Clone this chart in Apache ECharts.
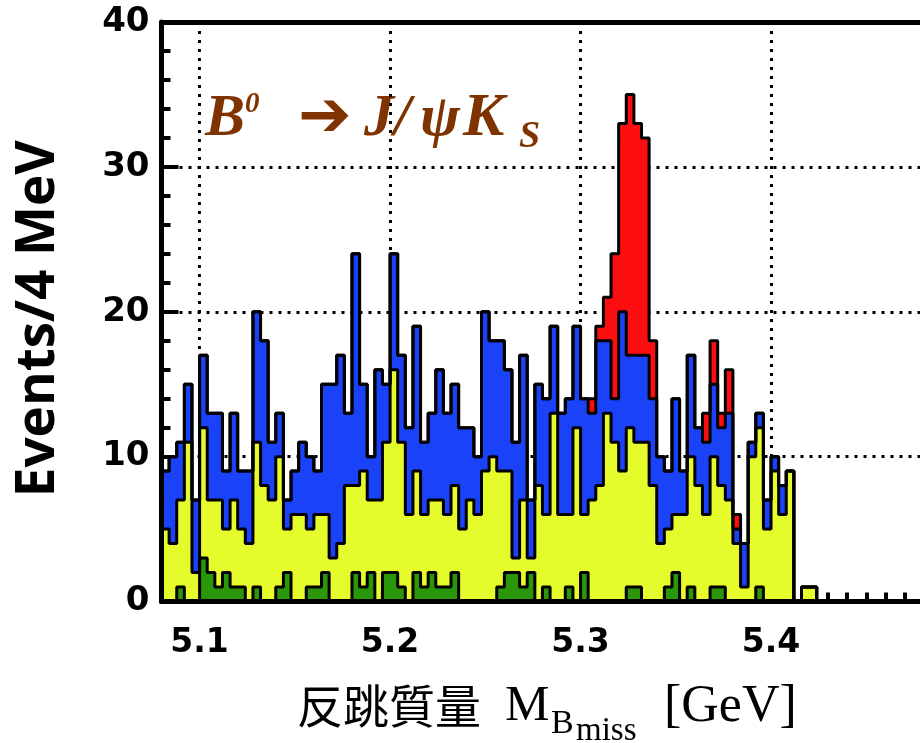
<!DOCTYPE html>
<html>
<head>
<meta charset="utf-8">
<title>B0 -> J/psi Ks recoil mass</title>
<script src="https://cdn.jsdelivr.net/npm/echarts@6/dist/echarts.min.js"></script>
<style>
  html, body { margin: 0; padding: 0; background: #fff; }
  #chart { width: 920px; height: 743px; }
</style>
</head>
<body>
<div id="chart"></div>
<script>
// 4 MeV bins, first bin starts at 5.08 GeV
const binStart = 5.08
const binWidth = 0.004

// top edge of each filled histogram (events per bin), drawn back to front
const totalCounts = [
  9, 10, 11, 15, 7, 17, 13, 13, 9, 13,
  9, 9, 20, 18, 11, 13, 7, 9, 11, 10,
  9, 15, 15, 17, 13, 24, 15, 10, 16, 15,
  24, 17, 12, 19, 11, 13, 16, 13, 15, 12,
  12, 10, 20, 18, 18, 16, 11, 17, 7, 15,
  14, 19, 13, 14, 19, 14, 14, 19, 21, 24,
  33, 35, 33, 32, 18, 10, 9, 14, 9, 17,
  12, 13, 18, 13, 16, 6, 4, 11, 13, 7,
  10, 8, 9, 0, 1, 1
]
const blueCounts = [
  9, 10, 11, 15, 7, 17, 13, 13, 9, 13,
  9, 9, 20, 18, 11, 13, 7, 9, 11, 10,
  9, 15, 15, 17, 13, 24, 15, 10, 16, 15,
  24, 17, 12, 19, 11, 13, 16, 13, 15, 12,
  12, 10, 20, 18, 18, 16, 11, 17, 7, 15,
  14, 19, 13, 14, 19, 14, 13, 18, 18, 14,
  20, 17, 17, 17, 14, 10, 9, 14, 9, 17,
  12, 11, 15, 12, 13, 5, 4, 11, 13, 7,
  10, 8, 9, 0, 1, 1
]
const yellowCounts = [
  5, 4, 7, 11, 2, 12, 7, 7, 5, 7,
  5, 4, 11, 8, 7, 10, 5, 6, 6, 5,
  6, 6, 3, 4, 8, 8, 9, 7, 7, 11,
  16, 11, 6, 9, 6, 7, 7, 6, 8, 5,
  7, 6, 9, 10, 9, 9, 3, 7, 3, 8,
  6, 13, 6, 6, 12, 6, 7, 8, 13, 11,
  9, 12, 11, 11, 8, 4, 5, 6, 6, 10,
  8, 6, 10, 8, 7, 4, 1, 10, 12, 5,
  9, 6, 9, 0, 1, 1
]
const greenCounts = [
  0, 0, 1, 0, 0, 3, 2, 1, 2, 1,
  1, 0, 1, 0, 0, 1, 2, 0, 0, 1,
  1, 2, 0, 0, 0, 2, 1, 2, 0, 2,
  2, 1, 0, 2, 1, 2, 1, 1, 2, 0,
  0, 0, 0, 0, 1, 2, 2, 1, 2, 0,
  1, 0, 0, 1, 0, 2, 0, 0, 0, 0,
  0, 1, 1, 0, 0, 0, 1, 2, 0, 1,
  0, 0, 1, 1, 0, 0, 0, 0, 1, 0,
  0, 0, 0, 0, 0, 0
]

const xMin = 5.08
const xMax = 5.5
const yMin = 0
const yMax = 40

const histColors = ['#fc0d0f', '#1a42f8', '#e6fb2b', '#2a960a']
const labelBrown = '#7f3300'

// bin edges -> step points, closed back to zero after the last bin
const toSteps = (counts) => {
  const pts = counts.map((v, i) => [binStart + i * binWidth, v])
  pts.push([binStart + counts.length * binWidth, 0])
  return pts
}

const histSeries = (counts, color) => ({
  type: 'line',
  step: 'end',
  symbol: 'none',
  silent: true,
  xAxisIndex: 0,
  yAxisIndex: 0,
  lineStyle: { color: '#000', width: 3 },
  areaStyle: { color: color, opacity: 1 },
  data: toSteps(counts)
})

const dotted = { color: '#000', width: 3, type: [3, 6] }
const frameLine = { show: true, lineStyle: { color: '#000', width: 5 } }
const serif = '"Liberation Serif", "Times New Roman", serif'

const label = (text, x, y, font, color) => ({
  type: 'text',
  x: x,
  y: y,
  style: { text: text, font: font, fill: color, align: 'left', verticalAlign: 'middle' }
})

const myChart = echarts.init(document.getElementById('chart'))

myChart.setOption({
  animation: false,
  grid: { left: 161.5, top: 22, width: 800, height: 579.5, outerBoundsMode: 'none' },
  xAxis: [
    {
      type: 'value',
      min: xMin,
      max: xMax,
      minInterval: 0.1,
      maxInterval: 0.1,
      axisLine: { show: false },
      axisTick: { show: true, inside: true, length: 16, lineStyle: { color: '#000', width: 4 } },
      minorTick: { show: true, splitNumber: 10, length: 9, lineStyle: { color: '#000', width: 4 } },
      axisLabel: {
        showMinLabel: false,
        showMaxLabel: false,
        margin: 25,
        color: '#000',
        fontFamily: 'DejaVu Sans',
        fontWeight: 'bold',
        fontSize: 33,
        formatter: (v) => v.toFixed(1)
      },
      splitLine: { show: true, lineStyle: dotted }
    },
    {
      type: 'value', min: xMin, max: xMax, position: 'bottom', z: 10,
      axisLine: frameLine, axisTick: { show: false }, axisLabel: { show: false }, splitLine: { show: false }
    },
    {
      type: 'value', min: xMin, max: xMax, position: 'top', z: 10,
      axisLine: frameLine, axisTick: { show: false }, axisLabel: { show: false }, splitLine: { show: false }
    }
  ],
  yAxis: [
    {
      type: 'value',
      min: yMin,
      max: yMax,
      interval: 10,
      axisLine: { show: false },
      axisTick: { show: true, inside: true, length: 17, lineStyle: { color: '#000', width: 4 } },
      minorTick: { show: true, splitNumber: 5, length: 9, lineStyle: { color: '#000', width: 4 } },
      axisLabel: {
        margin: 12,
        color: '#000',
        fontFamily: 'DejaVu Sans',
        fontWeight: 'bold',
        fontSize: 34
      },
      splitLine: { show: true, lineStyle: dotted },
      name: 'Events/4 MeV',
      nameLocation: 'middle',
      nameGap: 96,
      nameTextStyle: {
        color: '#000',
        fontFamily: 'Open Sans',
        fontWeight: 'bold',
        fontSize: 53,
        padding: [0, 14, 0, 0]
      }
    },
    {
      type: 'value', min: yMin, max: yMax, position: 'left', z: 10,
      axisLine: frameLine, axisTick: { show: false }, axisLabel: { show: false }, splitLine: { show: false }
    }
  ],
  graphic: [
    // decay label
    label('B', 205, 119, 'italic bold 60px ' + serif, labelBrown),
    label('0', 245, 105, 'italic bold 29px ' + serif, labelBrown),
    label('\u2794', 298, 119, 'bold 64px "DejaVu Sans"', labelBrown),
    label('J/', 364, 119, 'italic bold 60px ' + serif, labelBrown),
    label('\u03c8', 420, 119, 'italic bold 60px ' + serif, labelBrown),
    label('K', 463, 119, 'italic bold 62px ' + serif, labelBrown),
    label('S', 519, 137, 'italic bold 38px ' + serif, labelBrown),
    // x axis title
    label('反跳質量', 297, 706, '46px "Noto Sans CJK JP"', '#000'),
    label('M', 505, 707, '50px ' + serif, '#000'),
    label('B', 551, 724, '34px ' + serif, '#000'),
    label('miss', 576, 731, '33px ' + serif, '#000'),
    label('[GeV]', 664, 707, '52px ' + serif, '#000')
  ],
  series: [
    histSeries(totalCounts, histColors[0]),
    histSeries(blueCounts, histColors[1]),
    histSeries(yellowCounts, histColors[2]),
    histSeries(greenCounts, histColors[3])
  ]
})

window.addEventListener('resize', myChart.resize)
</script>
</body>
</html>
